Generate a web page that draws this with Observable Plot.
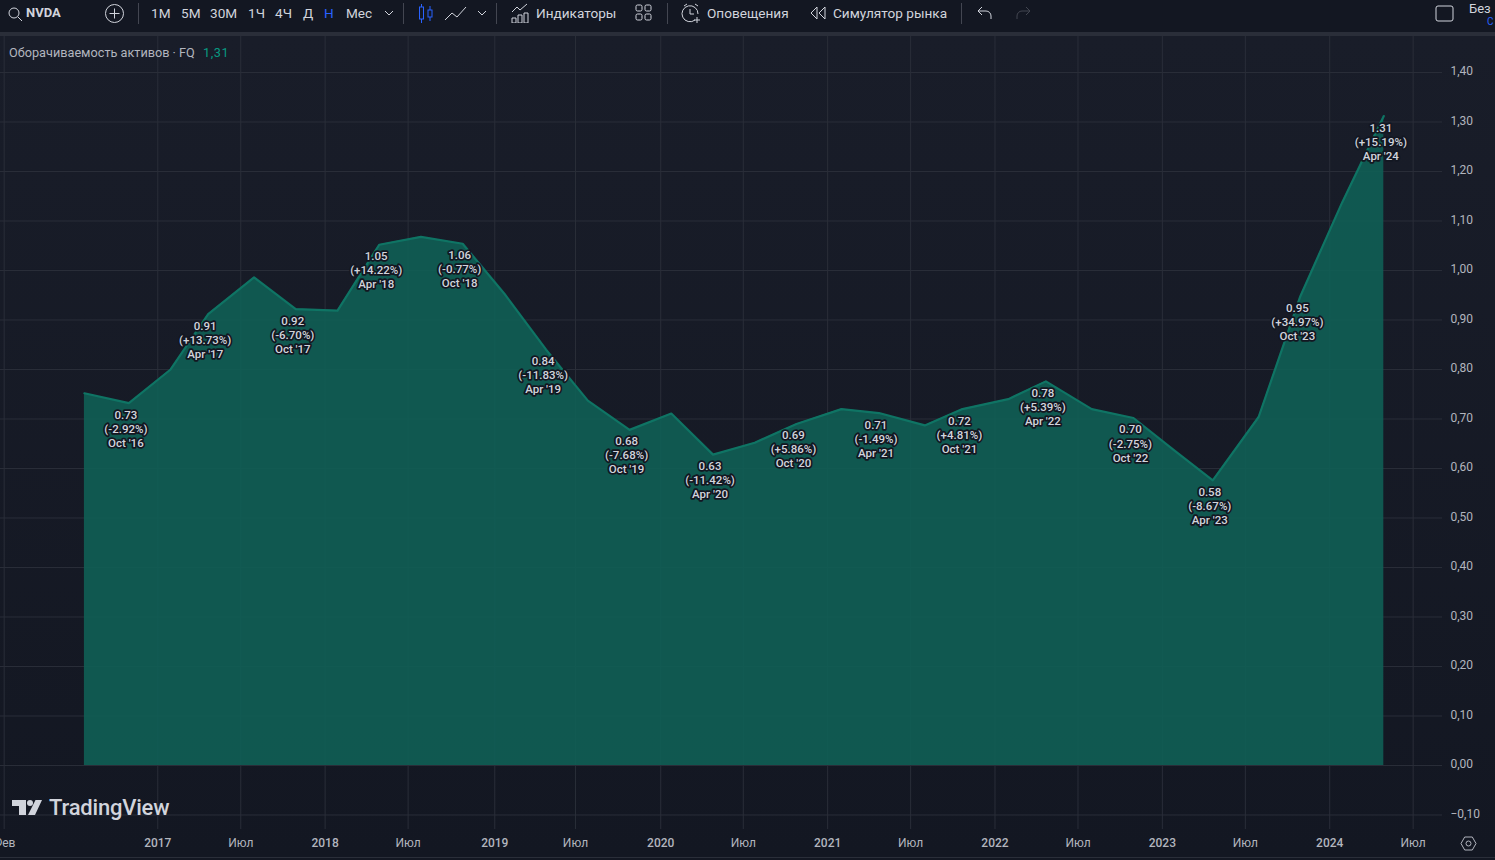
<!DOCTYPE html>
<html><head><meta charset="utf-8">
<script src="https://cdn.jsdelivr.net/npm/d3@7"></script>
<script src="https://cdn.jsdelivr.net/npm/@observablehq/plot@0.6"></script>
<style>
html,body{margin:0;padding:0;width:1495px;height:860px;overflow:hidden;background:#131722;font-family:Roboto,"Noto Sans",sans-serif;color:#d1d4dc}
#wrap{position:relative;width:1495px;height:860px;overflow:hidden}
#bar{position:absolute;left:0;top:0;width:1495px;height:32px;background:#131722}
#sep{position:absolute;left:0;top:32px;width:1495px;height:4px;background:#2a2e39}
#chart{position:absolute;left:0;top:36px}
#foot{position:absolute;left:0;top:857px;width:1495px;height:3px;background:#131722;border-top:1px solid #2a2e39;box-sizing:border-box}
.t{position:absolute;top:4px;font-size:13.6px;line-height:18px;white-space:nowrap;color:#d1d4dc}
.d{position:absolute;top:3px;width:1px;height:21px;background:#434651}
svg.i{position:absolute;fill:none;stroke:#d1d4dc;stroke-width:1}
#legend{position:absolute;left:9px;top:45px;font-size:12.7px;line-height:15px;color:#b2b5be;white-space:nowrap}
#legend b{font-weight:400;color:#089981;margin-left:5px;letter-spacing:.6px}
#logo{position:absolute;left:12px;top:796px;height:24px;color:#d1d4dc}
#logo span{position:absolute;left:37px;top:0;font-size:22px;line-height:24px;font-weight:500;letter-spacing:-.2px}
</style></head><body>
<div id="wrap">
<div id="bar">
<svg class="i" style="left:7px;top:6px" width="16" height="16" viewBox="0 0 16 16"><circle cx="7" cy="7" r="5"/><path d="M11 11l4 4"/></svg>
<span class="t" style="left:26px;font-weight:700;font-size:13px">NVDA</span>
<svg class="i" style="left:104px;top:3px" width="21" height="21" viewBox="0 0 21 21"><circle cx="10.500" cy="10.500" r="9"/><path d="M10.500 5.500v10M5.500 10.500h10"/></svg>
<i class="d" style="left:138px"></i>
<span class="t" style="left:151px">1М</span><span class="t" style="left:181px">5М</span><span class="t" style="left:210px">30М</span><span class="t" style="left:248px">1Ч</span><span class="t" style="left:275px">4Ч</span><span class="t" style="left:303px">Д</span><span class="t" style="left:324px;color:#2962ff">Н</span><span class="t" style="left:346px">Мес</span>
<svg class="i" style="left:384px;top:9px" width="10" height="8" viewBox="0 0 10 8"><path d="M1 2l4 4 4-4"/></svg>
<i class="d" style="left:403px"></i>
<svg class="i" style="left:418px;top:3px;stroke:#2962ff" width="16" height="21" viewBox="0 0 16 21"><rect x="1.500" y="4" width="4" height="12"/><path d="M3.500 1v3M3.500 16v4"/><rect x="10" y="7" width="4" height="7"/><path d="M12 3v4M12 14v4"/></svg>
<svg class="i" style="left:444px;top:6px" width="23" height="15" viewBox="0 0 23 15"><path d="M1 14l7-7 5 4 9-10"/></svg>
<svg class="i" style="left:477px;top:9px" width="10" height="8" viewBox="0 0 10 8"><path d="M1 2l4 4 4-4"/></svg>
<i class="d" style="left:496px"></i>
<svg class="i" style="left:511px;top:3px" width="19" height="20" viewBox="0 0 19 20"><path d="M1 9l5-5 3 3 7-6M1 20v-5h4v5zM7 20v-8h4v8zM13 20v-10h4v10z"/></svg>
<span class="t" style="left:536px">Индикаторы</span>
<svg class="i" style="left:635px;top:4px" width="17" height="17" viewBox="0 0 17 17"><rect x="1" y="1" width="6" height="6" rx="1.500"/><rect x="10" y="1" width="6" height="6" rx="1.500"/><rect x="1" y="10" width="6" height="6" rx="1.500"/><rect x="10" y="10" width="6" height="6" rx="1.500"/></svg>
<i class="d" style="left:667px"></i>
<svg class="i" style="left:681px;top:3px" width="21" height="21" viewBox="0 0 21 21"><path d="M14 17a8 8 0 1 1 3-6M9 6v5h4M3 3l3-2M14 1l3 2M16 14v6M13 17h6"/></svg>
<span class="t" style="left:707px">Оповещения</span>
<svg class="i" style="left:810px;top:6px" width="16" height="14" viewBox="0 0 16 14"><path d="M7 1L1 7l6 6zM15 1L9 7l6 6z"/></svg>
<span class="t" style="left:833px">Симулятор рынка</span>
<i class="d" style="left:961px"></i>
<svg class="i" style="left:977px;top:6px" width="15" height="14" viewBox="0 0 15 14"><path d="M5 1L1 5l4 4M1 5h8a5 5 0 0 1 5 5v3"/></svg>
<svg class="i" style="left:1016px;top:6px;stroke:#434651" width="15" height="14" viewBox="0 0 15 14"><path d="M10 1l4 4-4 4M14 5H6a5 5 0 0 0-5 5v3"/></svg>
<svg class="i" style="left:1435px;top:5px" width="19" height="17" viewBox="0 0 19 17"><rect x="1" y="1" width="17" height="15" rx="2"/></svg>
<span class="t" style="left:1469px;top:0;font-size:13px">Без</span>
<span class="t" style="left:1487px;top:13px;font-size:10px;color:#2962ff">С</span>
</div>
<div id="sep"></div>
<div id="chart"></div>
<div id="legend">Оборачиваемость активов · FQ <b>1,31</b></div>
<div id="logo"><svg width="31" height="16" viewBox="0 0 31 16" style="position:absolute;left:0;top:4px"><path fill="#d1d4dc" d="M0 0h14v15H7V6H0z"/><circle fill="#d1d4dc" cx="18" cy="3" r="3"/><path fill="#d1d4dc" d="M23.500 0H30L23 15h-7z"/></svg><span>TradingView</span></div>
<svg class="i" style="left:1460px;top:836px;stroke:#b2b5be" width="17" height="15" viewBox="0 0 17 15"><path d="M1 7.500L4.700 1h7.600L16 7.500 12.300 14H4.700z"/><circle cx="8.500" cy="7.500" r="2.500"/></svg>
<div id="foot"></div>
</div>
<script>
const periodEnds = ["2016-07-25","2016-10-30","2017-01-29","2017-04-21","2017-07-30","2017-10-29","2018-01-28","2018-04-29","2018-07-29","2018-10-28","2019-01-27","2019-04-28","2019-07-28","2019-10-27","2020-01-26","2020-04-26","2020-07-26","2020-10-25","2021-01-31","2021-04-23","2021-08-01","2021-10-22","2022-01-30","2022-04-22","2022-07-31","2022-10-30","2023-01-29","2023-04-21","2023-07-30","2023-10-29","2024-01-28","2024-04-28"];
const turnover = [0.752,0.732,0.800,0.912,0.986,0.922,0.919,1.052,1.068,1.054,0.953,0.840,0.737,0.678,0.711,0.628,0.652,0.690,0.720,0.712,0.687,0.720,0.740,0.776,0.720,0.702,0.635,0.576,0.704,0.948,1.137,1.312];
const labelShown = ["0.73","0.91","0.92","1.05","1.06","0.84","0.68","0.63","0.69","0.71","0.72","0.78","0.70","0.58","0.95","1.31"];
const labelChanges = ["-2.92","+13.73","-6.70","+14.22","-0.77","-11.83","-7.68","-11.42","+5.86","-1.49","+4.81","+5.39","-2.75","-8.67","+34.97","+15.19"];
const labelPeriods = ["Oct '16","Apr '17","Oct '17","Apr '18","Oct '18","Apr '19","Oct '19","Apr '20","Oct '20","Apr '21","Oct '21","Apr '22","Oct '22","Apr '23","Oct '23","Apr '24"];
const labelledIndex = [1,3,5,7,9,11,13,15,17,19,21,23,25,27,29,31];
const yearTicks = ["2017-01-01","2018-01-01","2019-01-06","2020-01-03","2021-01-01","2022-01-01","2023-01-01","2024-01-01"];
const yearNames = ["2017","2018","2019","2020","2021","2022","2023","2024"];
const monthTicks = ["2016-02-01","2017-07-01","2018-07-01","2019-07-01","2020-07-01","2021-07-01","2022-07-01","2023-07-01","2024-07-01"];
const monthNames = ["Фев","Июл","Июл","Июл","Июл","Июл","Июл","Июл","Июл"];
const yTicks = [-0.1,0,0.1,0.2,0.3,0.4,0.5,0.6,0.7,0.8,0.9,1.0,1.1,1.2,1.3,1.4];

const day = s => new Date(s + "T00:00:00Z");
const series = periodEnds.map((d,i) => ({date: day(d), value: turnover[i]}));
const labels = labelledIndex.map((k,i) => ({date: series[k].date, value: series[k].value,
  text: `${labelShown[i]}\n(${labelChanges[i]}%)\n${labelPeriods[i]}`}));
const years = yearTicks.map(day), months = monthTicks.map(day);
const yearName = new Map(years.map((d,i)=>[+d,yearNames[i]]));
const monthName = new Map(months.map((d,i)=>[+d,monthNames[i]]));
const axisFont = {fontFamily:"Roboto", fontSize:12};

const plot = Plot.plot({
  width:1495, height:821,
  marginLeft:0, marginRight:53, marginTop:0, marginBottom:28,
  style:{background:"linear-gradient(#191d29,#131722)", overflow:"hidden", display:"block", fontFamily:"Roboto"},
  x:{type:"utc", domain:[day("2016-01-24"),day("2024-09-03")]},
  y:{domain:[-0.1293,1.4727]},
  marks:[
    Plot.gridY(yTicks,{stroke:"#2a2e39",strokeOpacity:1}),
    Plot.gridX([...years,...months],{stroke:"#2a2e39",strokeOpacity:1}),
    Plot.areaY(series,{x:"date",y:"value",fill:"#0f5f55",fillOpacity:0.9}),
    Plot.lineY(series,{x:"date",y:"value",stroke:"#0f7464",strokeWidth:2.2}),
    Plot.text(labels,{x:"date",y:"value",text:"text",dx:-3,dy:25,lineAnchor:"middle",lineHeight:1.22,
      fontSize:11.500,fontWeight:500,fontFamily:"Roboto",fill:"#d1d4dc",stroke:"#131722",strokeWidth:3.500,strokeLinejoin:"round"}),
    Plot.axisY(yTicks,{anchor:"right",label:null,tickSize:0,tickPadding:8,dy:-1,fill:"#b2b5be",...axisFont,
      tickFormat:d=>(d<0?"−":"")+Math.abs(d).toFixed(2).replace(".",",")}),
    Plot.axisX(years,{anchor:"bottom",label:null,tickSize:0,tickPadding:9,fill:"#b2b5be",fontWeight:500,...axisFont,
      tickFormat:d=>yearName.get(+d)}),
    Plot.axisX(months,{anchor:"bottom",label:null,tickSize:0,tickPadding:9,fill:"#b2b5be",...axisFont,
      tickFormat:d=>monthName.get(+d)})
  ]
});
document.getElementById("chart").append(plot);
</script>
</body></html>
